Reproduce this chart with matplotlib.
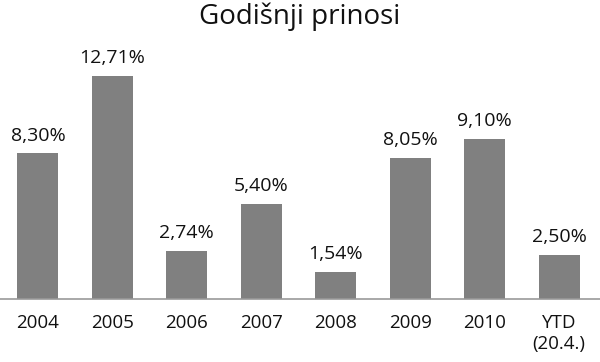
import matplotlib
matplotlib.use("Agg")
import matplotlib.pyplot as plt

years = ["2004", "2005", "2006", "2007", "2008", "2009", "2010", "YTD\n(20.4.)"]
returns = [8.30, 12.71, 2.74, 5.40, 1.54, 8.05, 9.10, 2.50]
value_labels = ["8,30%", "12,71%", "2,74%", "5,40%", "1,54%", "8,05%", "9,10%", "2,50%"]

plt.rcParams['font.family'] = ['Open Sans', 'DejaVu Sans']

fig = plt.figure(figsize=(6, 3.62), dpi=100)
ax = fig.add_axes([0.0, 0.174, 1.0, 0.679])

x = range(len(years))
bars = ax.bar(x, returns, width=0.55, color='#808080')

for rect, lab in zip(bars, value_labels):
    ax.text(rect.get_x() + rect.get_width() / 2, rect.get_height() + 0.5, lab,
            ha='center', va='bottom', fontsize=14, color='#111111')

ax.set_xlim(-0.51, 7.55)
ax.set_ylim(0, 14)
ax.set_xticks(list(x))
ax.set_xticklabels(years, fontsize=13.5, color='#111111', linespacing=1.2, va='top')
ax.tick_params(axis='x', length=0, pad=11)
ax.set_yticks([])
for s in ['top', 'right', 'left']:
    ax.spines[s].set_visible(False)
ax.spines['bottom'].set_color('#999999')
ax.spines['bottom'].set_linewidth(1.2)

fig.text(0.5, 0.955, "Godišnji prinosi", ha='center', va='center', fontsize=20, color='#111111')

fig.savefig("out.png", dpi=100)
